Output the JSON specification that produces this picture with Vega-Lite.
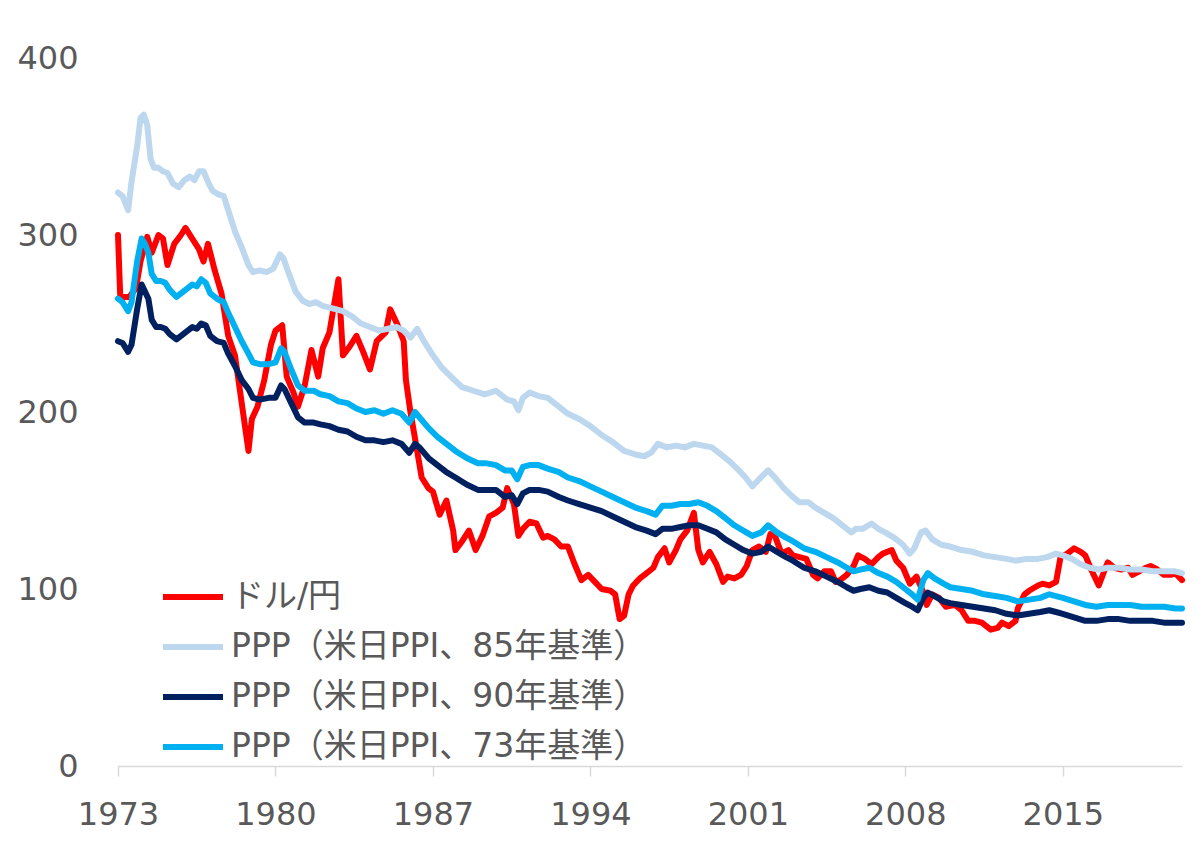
{
  "$schema": "https://vega.github.io/schema/vega-lite/v6.json",
  "autosize": {"type": "none"},
  "padding": {"left": 118, "top": 58, "right": 16, "bottom": 79},
  "width": 1064,
  "height": 708,
  "background": "white",
  "config": {
    "view": {"stroke": null},
    "font": "DejaVu Sans",
    "axis": {"labelFont": "DejaVu Sans", "labelColor": "#595959", "labelFontSize": 32, "grid": false, "title": null}
  },
  "encoding": {
    "x": {"field": "t", "type": "quantitative", "scale": {"domain": [1973, 2020.3], "nice": false, "zero": false},
      "axis": {"values": [1973, 1980, 1987, 1994, 2001, 2008, 2015], "format": "d", "domainColor": "#d9d9d9", "domainWidth": 1.5, "tickColor": "#d9d9d9", "tickWidth": 1.5, "tickSize": 10, "labelPadding": 23, "labelFlush": false}},
    "y": {"field": "v", "type": "quantitative", "scale": {"domain": [0, 400], "nice": false},
      "axis": {"values": [0, 100, 200, 300, 400], "domain": false, "ticks": false, "labelPadding": 40}}
  },
  "layer": [
    {
      "data": {"values": [
        {"t":1973.0,"v":300},{"t":1973.1,"v":265},{"t":1973.5,"v":265},{"t":1973.8,"v":270},{"t":1974.0,"v":285},{"t":1974.3,"v":299},{"t":1974.5,"v":290},{"t":1974.8,"v":300},{"t":1975.0,"v":298},{"t":1975.2,"v":283},{"t":1975.5,"v":295},{"t":1975.8,"v":300},{"t":1976.0,"v":304},{"t":1976.3,"v":298},{"t":1976.6,"v":292},{"t":1976.8,"v":285},{"t":1977.0,"v":295},{"t":1977.3,"v":280},{"t":1977.6,"v":267},{"t":1977.9,"v":243},{"t":1978.2,"v":232},{"t":1978.5,"v":205},{"t":1978.8,"v":178},{"t":1978.95,"v":196},{"t":1979.2,"v":203},{"t":1979.5,"v":218},{"t":1979.8,"v":238},{"t":1980.0,"v":246},{"t":1980.3,"v":249},{"t":1980.5,"v":220},{"t":1980.8,"v":211},{"t":1981.0,"v":203},{"t":1981.3,"v":215},{"t":1981.6,"v":235},{"t":1981.9,"v":220},{"t":1982.1,"v":236},{"t":1982.4,"v":245},{"t":1982.8,"v":275},{"t":1983.0,"v":232},{"t":1983.3,"v":237},{"t":1983.6,"v":243},{"t":1983.9,"v":234},{"t":1984.2,"v":224},{"t":1984.5,"v":240},{"t":1984.9,"v":245},{"t":1985.1,"v":258},{"t":1985.4,"v":250},{"t":1985.7,"v":240},{"t":1985.8,"v":218},{"t":1986.0,"v":200},{"t":1986.3,"v":178},{"t":1986.5,"v":163},{"t":1986.8,"v":157},{"t":1987.0,"v":155},{"t":1987.3,"v":142},{"t":1987.6,"v":150},{"t":1987.9,"v":133},{"t":1988.0,"v":122},{"t":1988.3,"v":127},{"t":1988.6,"v":133},{"t":1988.9,"v":122},{"t":1989.2,"v":130},{"t":1989.5,"v":141},{"t":1989.8,"v":143},{"t":1990.1,"v":146},{"t":1990.3,"v":157},{"t":1990.6,"v":148},{"t":1990.8,"v":130},{"t":1991.0,"v":134},{"t":1991.3,"v":138},{"t":1991.6,"v":137},{"t":1991.9,"v":129},{"t":1992.1,"v":130},{"t":1992.4,"v":128},{"t":1992.7,"v":124},{"t":1993.0,"v":124},{"t":1993.3,"v":114},{"t":1993.6,"v":105},{"t":1993.9,"v":108},{"t":1994.2,"v":104},{"t":1994.5,"v":100},{"t":1994.9,"v":99},{"t":1995.1,"v":97},{"t":1995.3,"v":83},{"t":1995.5,"v":85},{"t":1995.7,"v":97},{"t":1995.9,"v":102},{"t":1996.2,"v":106},{"t":1996.5,"v":109},{"t":1996.8,"v":112},{"t":1997.0,"v":118},{"t":1997.3,"v":123},{"t":1997.5,"v":115},{"t":1997.8,"v":122},{"t":1998.0,"v":128},{"t":1998.3,"v":133},{"t":1998.6,"v":143},{"t":1998.8,"v":122},{"t":1999.0,"v":115},{"t":1999.3,"v":121},{"t":1999.6,"v":114},{"t":1999.9,"v":104},{"t":2000.1,"v":107},{"t":2000.4,"v":106},{"t":2000.7,"v":108},{"t":2000.95,"v":113},{"t":2001.2,"v":122},{"t":2001.5,"v":124},{"t":2001.8,"v":121},{"t":2002.0,"v":131},{"t":2002.2,"v":130},{"t":2002.5,"v":120},{"t":2002.8,"v":122},{"t":2003.0,"v":119},{"t":2003.3,"v":118},{"t":2003.6,"v":117},{"t":2003.9,"v":108},{"t":2004.1,"v":106},{"t":2004.4,"v":110},{"t":2004.7,"v":110},{"t":2004.9,"v":104},{"t":2005.1,"v":105},{"t":2005.4,"v":108},{"t":2005.7,"v":113},{"t":2005.9,"v":119},{"t":2006.2,"v":117},{"t":2006.5,"v":114},{"t":2006.8,"v":118},{"t":2007.0,"v":120},{"t":2007.4,"v":122},{"t":2007.6,"v":116},{"t":2007.9,"v":112},{"t":2008.2,"v":103},{"t":2008.5,"v":107},{"t":2008.8,"v":98},{"t":2008.95,"v":91},{"t":2009.2,"v":97},{"t":2009.5,"v":95},{"t":2009.8,"v":90},{"t":2010.2,"v":91},{"t":2010.5,"v":88},{"t":2010.8,"v":82},{"t":2011.1,"v":82},{"t":2011.4,"v":81},{"t":2011.8,"v":77},{"t":2012.1,"v":78},{"t":2012.3,"v":81},{"t":2012.6,"v":79},{"t":2012.9,"v":82},{"t":2013.0,"v":89},{"t":2013.3,"v":97},{"t":2013.5,"v":99},{"t":2013.9,"v":102},{"t":2014.1,"v":103},{"t":2014.4,"v":102},{"t":2014.7,"v":104},{"t":2014.9,"v":118},{"t":2015.2,"v":120},{"t":2015.5,"v":123},{"t":2015.8,"v":121},{"t":2016.0,"v":119},{"t":2016.3,"v":110},{"t":2016.6,"v":102},{"t":2016.9,"v":112},{"t":2017.0,"v":115},{"t":2017.3,"v":112},{"t":2017.6,"v":111},{"t":2017.9,"v":112},{"t":2018.1,"v":108},{"t":2018.4,"v":110},{"t":2018.7,"v":112},{"t":2018.9,"v":113},{"t":2019.2,"v":111},{"t":2019.5,"v":108},{"t":2019.8,"v":108},{"t":2020.0,"v":109},{"t":2020.15,"v":107},{"t":2020.3,"v":105}
      ]},
      "mark": {"type": "line", "strokeWidth": 6, "strokeJoin": "round", "strokeCap": "round"},
      "encoding": {
        "color": {"datum": "ドル/円", "type": "nominal",
          "scale": {"domain": ["ドル/円", "PPP（米日PPI、85年基準）", "PPP（米日PPI、90年基準）", "PPP（米日PPI、73年基準）"], "range": ["#FF0000", "#BDD7EE", "#002060", "#00B0F0"]},
          "legend": {"title": null, "orient": "none", "legendX": 42, "legendY": 506, "symbolType": "stroke", "symbolSize": 3600, "symbolStrokeWidth": 6, "labelFontSize": 33, "labelColor": "#595959", "labelFont": "DejaVu Sans, Noto Sans CJK JP", "labelOffset": 5, "rowPadding": 0, "labelLimit": 700}}
      }
    },
    {
      "data": {"values": [
        {"t":1973.0,"v":324},{"t":1973.2,"v":322},{"t":1973.45,"v":314},{"t":1973.6,"v":330},{"t":1973.85,"v":350},{"t":1974.0,"v":366},{"t":1974.15,"v":368},{"t":1974.3,"v":362},{"t":1974.45,"v":343},{"t":1974.6,"v":338},{"t":1974.8,"v":338},{"t":1975.0,"v":336},{"t":1975.2,"v":335},{"t":1975.45,"v":329},{"t":1975.7,"v":327},{"t":1975.95,"v":331},{"t":1976.2,"v":333},{"t":1976.4,"v":331},{"t":1976.6,"v":336},{"t":1976.8,"v":336},{"t":1977.0,"v":330},{"t":1977.2,"v":325},{"t":1977.45,"v":323},{"t":1977.7,"v":322},{"t":1977.9,"v":314},{"t":1978.2,"v":302},{"t":1978.5,"v":293},{"t":1978.8,"v":283},{"t":1979.0,"v":279},{"t":1979.3,"v":280},{"t":1979.6,"v":279},{"t":1979.9,"v":281},{"t":1980.2,"v":289},{"t":1980.35,"v":287},{"t":1980.6,"v":278},{"t":1980.9,"v":268},{"t":1981.2,"v":263},{"t":1981.5,"v":261},{"t":1981.8,"v":262},{"t":1982.1,"v":260},{"t":1982.4,"v":259},{"t":1982.7,"v":258},{"t":1983.0,"v":257},{"t":1983.4,"v":254},{"t":1983.8,"v":250},{"t":1984.2,"v":248},{"t":1984.6,"v":246},{"t":1985.0,"v":247},{"t":1985.4,"v":248},{"t":1985.7,"v":246},{"t":1986.0,"v":242},{"t":1986.3,"v":247},{"t":1986.6,"v":240},{"t":1987.0,"v":232},{"t":1987.4,"v":225},{"t":1987.8,"v":220},{"t":1988.3,"v":214},{"t":1988.8,"v":212},{"t":1989.3,"v":210},{"t":1989.8,"v":212},{"t":1990.3,"v":207},{"t":1990.6,"v":206},{"t":1990.8,"v":201},{"t":1991.0,"v":208},{"t":1991.3,"v":211},{"t":1991.7,"v":209},{"t":1992.1,"v":208},{"t":1992.6,"v":203},{"t":1993.0,"v":199},{"t":1993.5,"v":196},{"t":1994.0,"v":192},{"t":1994.5,"v":187},{"t":1995.0,"v":183},{"t":1995.5,"v":178},{"t":1996.0,"v":176},{"t":1996.4,"v":175},{"t":1996.7,"v":177},{"t":1997.0,"v":182},{"t":1997.4,"v":180},{"t":1997.8,"v":181},{"t":1998.2,"v":180},{"t":1998.6,"v":182},{"t":1999.0,"v":181},{"t":1999.4,"v":180},{"t":1999.8,"v":176},{"t":2000.2,"v":172},{"t":2000.6,"v":167},{"t":2000.9,"v":163},{"t":2001.2,"v":158},{"t":2001.5,"v":162},{"t":2001.9,"v":167},{"t":2002.2,"v":163},{"t":2002.6,"v":157},{"t":2003.0,"v":152},{"t":2003.3,"v":149},{"t":2003.7,"v":149},{"t":2004.0,"v":146},{"t":2004.4,"v":143},{"t":2004.8,"v":140},{"t":2005.2,"v":136},{"t":2005.6,"v":132},{"t":2005.8,"v":134},{"t":2006.1,"v":134},{"t":2006.5,"v":137},{"t":2006.8,"v":134},{"t":2007.1,"v":132},{"t":2007.5,"v":129},{"t":2007.9,"v":125},{"t":2008.2,"v":120},{"t":2008.4,"v":123},{"t":2008.7,"v":132},{"t":2008.9,"v":133},{"t":2009.2,"v":128},{"t":2009.6,"v":125},{"t":2010.0,"v":124},{"t":2010.5,"v":122},{"t":2011.0,"v":121},{"t":2011.5,"v":119},{"t":2012.0,"v":118},{"t":2012.5,"v":117},{"t":2012.9,"v":116},{"t":2013.4,"v":117},{"t":2013.9,"v":117},{"t":2014.3,"v":118},{"t":2014.7,"v":120},{"t":2015.0,"v":119},{"t":2015.4,"v":117},{"t":2015.8,"v":114},{"t":2016.2,"v":112},{"t":2016.6,"v":111},{"t":2017.0,"v":112},{"t":2017.5,"v":112},{"t":2018.0,"v":111},{"t":2018.5,"v":111},{"t":2019.0,"v":110},{"t":2019.5,"v":110},{"t":2020.0,"v":110},{"t":2020.3,"v":109}
      ]},
      "mark": {"type": "line", "strokeWidth": 6, "strokeJoin": "round", "strokeCap": "round"},
      "encoding": {"color": {"datum": "PPP（米日PPI、85年基準）", "type": "nominal"}}
    },
    {
      "data": {"values": [
        {"t":1973.0,"v":240},{"t":1973.2,"v":239},{"t":1973.45,"v":234},{"t":1973.6,"v":238},{"t":1973.85,"v":258},{"t":1974.05,"v":272},{"t":1974.2,"v":268},{"t":1974.35,"v":264},{"t":1974.5,"v":252},{"t":1974.7,"v":248},{"t":1974.9,"v":248},{"t":1975.1,"v":247},{"t":1975.3,"v":244},{"t":1975.6,"v":241},{"t":1975.8,"v":243},{"t":1976.0,"v":245},{"t":1976.3,"v":248},{"t":1976.5,"v":247},{"t":1976.7,"v":250},{"t":1976.9,"v":249},{"t":1977.1,"v":243},{"t":1977.4,"v":240},{"t":1977.7,"v":239},{"t":1977.9,"v":233},{"t":1978.2,"v":226},{"t":1978.5,"v":218},{"t":1978.8,"v":213},{"t":1979.0,"v":208},{"t":1979.3,"v":207},{"t":1979.7,"v":208},{"t":1980.0,"v":208},{"t":1980.25,"v":215},{"t":1980.4,"v":213},{"t":1980.7,"v":205},{"t":1981.0,"v":197},{"t":1981.3,"v":194},{"t":1981.7,"v":194},{"t":1982.0,"v":193},{"t":1982.4,"v":192},{"t":1982.8,"v":190},{"t":1983.2,"v":189},{"t":1983.6,"v":186},{"t":1984.0,"v":184},{"t":1984.4,"v":184},{"t":1984.8,"v":183},{"t":1985.2,"v":184},{"t":1985.6,"v":182},{"t":1985.95,"v":177},{"t":1986.2,"v":182},{"t":1986.4,"v":180},{"t":1986.8,"v":174},{"t":1987.2,"v":170},{"t":1987.6,"v":166},{"t":1988.0,"v":163},{"t":1988.5,"v":159},{"t":1989.0,"v":156},{"t":1989.4,"v":156},{"t":1989.8,"v":156},{"t":1990.2,"v":152},{"t":1990.5,"v":153},{"t":1990.75,"v":148},{"t":1991.0,"v":154},{"t":1991.3,"v":156},{"t":1991.7,"v":156},{"t":1992.1,"v":155},{"t":1992.6,"v":152},{"t":1993.0,"v":150},{"t":1993.5,"v":148},{"t":1994.0,"v":146},{"t":1994.5,"v":144},{"t":1995.0,"v":141},{"t":1995.5,"v":138},{"t":1996.0,"v":135},{"t":1996.5,"v":133},{"t":1996.9,"v":131},{"t":1997.2,"v":134},{"t":1997.6,"v":134},{"t":1998.0,"v":135},{"t":1998.4,"v":136},{"t":1998.8,"v":136},{"t":1999.2,"v":134},{"t":1999.6,"v":132},{"t":2000.0,"v":128},{"t":2000.4,"v":125},{"t":2000.8,"v":122},{"t":2001.2,"v":120},{"t":2001.6,"v":121},{"t":2001.9,"v":124},{"t":2002.3,"v":121},{"t":2002.7,"v":118},{"t":2003.0,"v":116},{"t":2003.5,"v":112},{"t":2004.0,"v":110},{"t":2004.5,"v":107},{"t":2005.0,"v":104},{"t":2005.4,"v":101},{"t":2005.7,"v":99},{"t":2006.0,"v":100},{"t":2006.4,"v":101},{"t":2006.8,"v":99},{"t":2007.2,"v":98},{"t":2007.6,"v":95},{"t":2008.0,"v":92},{"t":2008.3,"v":90},{"t":2008.55,"v":88},{"t":2008.8,"v":95},{"t":2009.0,"v":98},{"t":2009.3,"v":96},{"t":2009.7,"v":93},{"t":2010.0,"v":92},{"t":2010.5,"v":91},{"t":2011.0,"v":90},{"t":2011.5,"v":89},{"t":2012.0,"v":88},{"t":2012.5,"v":86},{"t":2013.0,"v":85},{"t":2013.5,"v":86},{"t":2014.0,"v":87},{"t":2014.4,"v":88},{"t":2014.7,"v":87},{"t":2015.0,"v":86},{"t":2015.5,"v":84},{"t":2016.0,"v":82},{"t":2016.5,"v":82},{"t":2017.0,"v":83},{"t":2017.5,"v":83},{"t":2018.0,"v":82},{"t":2018.5,"v":82},{"t":2019.0,"v":82},{"t":2019.5,"v":81},{"t":2020.0,"v":81},{"t":2020.3,"v":81}
      ]},
      "mark": {"type": "line", "strokeWidth": 6, "strokeJoin": "round", "strokeCap": "round"},
      "encoding": {"color": {"datum": "PPP（米日PPI、90年基準）", "type": "nominal"}}
    },
    {
      "data": {"values": [
        {"t":1973.0,"v":264},{"t":1973.2,"v":262},{"t":1973.45,"v":257},{"t":1973.6,"v":262},{"t":1973.85,"v":285},{"t":1974.05,"v":298},{"t":1974.2,"v":295},{"t":1974.35,"v":290},{"t":1974.5,"v":278},{"t":1974.7,"v":274},{"t":1974.9,"v":274},{"t":1975.1,"v":273},{"t":1975.3,"v":269},{"t":1975.6,"v":265},{"t":1975.8,"v":267},{"t":1976.0,"v":269},{"t":1976.3,"v":272},{"t":1976.5,"v":271},{"t":1976.7,"v":275},{"t":1976.9,"v":273},{"t":1977.1,"v":267},{"t":1977.4,"v":264},{"t":1977.7,"v":262},{"t":1977.9,"v":256},{"t":1978.2,"v":248},{"t":1978.5,"v":240},{"t":1978.8,"v":233},{"t":1979.0,"v":228},{"t":1979.3,"v":227},{"t":1979.7,"v":227},{"t":1980.0,"v":228},{"t":1980.25,"v":236},{"t":1980.4,"v":234},{"t":1980.7,"v":224},{"t":1981.0,"v":215},{"t":1981.3,"v":212},{"t":1981.7,"v":212},{"t":1982.0,"v":210},{"t":1982.4,"v":209},{"t":1982.8,"v":206},{"t":1983.2,"v":205},{"t":1983.6,"v":202},{"t":1984.0,"v":200},{"t":1984.4,"v":201},{"t":1984.8,"v":199},{"t":1985.2,"v":201},{"t":1985.6,"v":199},{"t":1985.95,"v":194},{"t":1986.2,"v":200},{"t":1986.4,"v":197},{"t":1986.8,"v":191},{"t":1987.2,"v":186},{"t":1987.6,"v":182},{"t":1988.0,"v":178},{"t":1988.5,"v":174},{"t":1989.0,"v":171},{"t":1989.4,"v":171},{"t":1989.8,"v":170},{"t":1990.2,"v":167},{"t":1990.5,"v":167},{"t":1990.75,"v":162},{"t":1991.0,"v":169},{"t":1991.3,"v":170},{"t":1991.7,"v":170},{"t":1992.1,"v":168},{"t":1992.6,"v":166},{"t":1993.0,"v":163},{"t":1993.5,"v":161},{"t":1994.0,"v":158},{"t":1994.5,"v":155},{"t":1995.0,"v":152},{"t":1995.5,"v":149},{"t":1996.0,"v":146},{"t":1996.5,"v":144},{"t":1996.9,"v":142},{"t":1997.2,"v":147},{"t":1997.6,"v":147},{"t":1998.0,"v":148},{"t":1998.4,"v":148},{"t":1998.8,"v":149},{"t":1999.2,"v":147},{"t":1999.6,"v":144},{"t":2000.0,"v":140},{"t":2000.4,"v":136},{"t":2000.8,"v":133},{"t":2001.2,"v":130},{"t":2001.6,"v":132},{"t":2001.9,"v":136},{"t":2002.3,"v":132},{"t":2002.7,"v":129},{"t":2003.0,"v":127},{"t":2003.5,"v":123},{"t":2004.0,"v":121},{"t":2004.5,"v":118},{"t":2005.0,"v":115},{"t":2005.4,"v":112},{"t":2005.7,"v":110},{"t":2006.0,"v":111},{"t":2006.4,"v":112},{"t":2006.8,"v":109},{"t":2007.2,"v":107},{"t":2007.6,"v":104},{"t":2008.0,"v":100},{"t":2008.3,"v":97},{"t":2008.55,"v":94},{"t":2008.8,"v":105},{"t":2009.0,"v":109},{"t":2009.3,"v":106},{"t":2009.7,"v":103},{"t":2010.0,"v":101},{"t":2010.5,"v":100},{"t":2011.0,"v":99},{"t":2011.5,"v":97},{"t":2012.0,"v":96},{"t":2012.5,"v":95},{"t":2013.0,"v":93},{"t":2013.5,"v":94},{"t":2014.0,"v":95},{"t":2014.4,"v":97},{"t":2014.7,"v":96},{"t":2015.0,"v":95},{"t":2015.5,"v":93},{"t":2016.0,"v":91},{"t":2016.5,"v":90},{"t":2017.0,"v":91},{"t":2017.5,"v":91},{"t":2018.0,"v":91},{"t":2018.5,"v":90},{"t":2019.0,"v":90},{"t":2019.5,"v":90},{"t":2020.0,"v":89},{"t":2020.3,"v":89}
      ]},
      "mark": {"type": "line", "strokeWidth": 6, "strokeJoin": "round", "strokeCap": "round"},
      "encoding": {"color": {"datum": "PPP（米日PPI、73年基準）", "type": "nominal"}}
    }
  ]
}
